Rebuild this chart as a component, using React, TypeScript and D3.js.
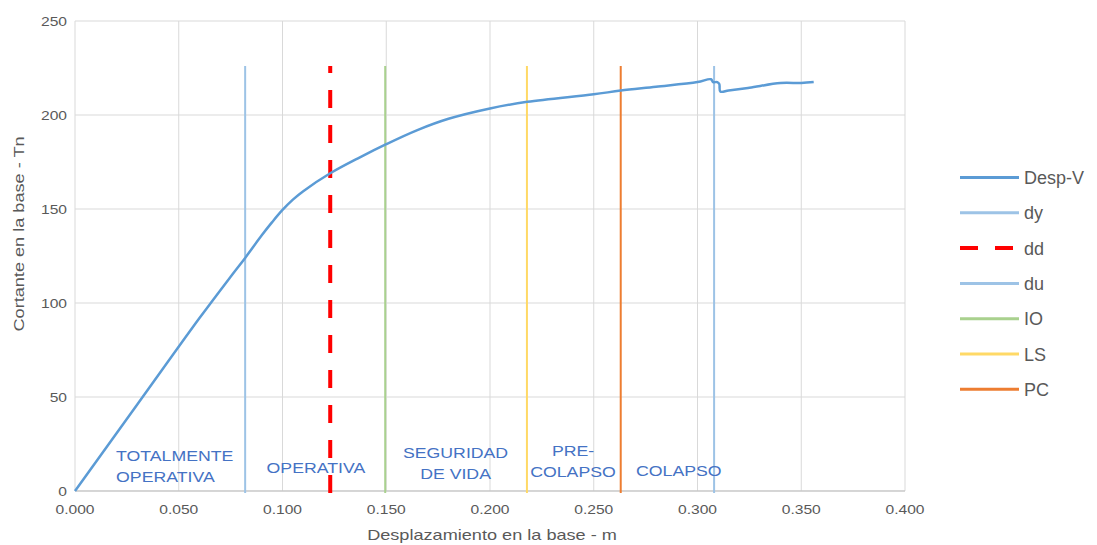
import React from "react";
import * as d3 from "d3";

// Pushover curve: displacement (m) vs base shear (Tn)
const dispX = [0, 0.03, 0.06, 0.075, 0.082, 0.09, 0.095, 0.1, 0.105, 0.11, 0.123, 0.1373, 0.15, 0.165, 0.18, 0.2, 0.218, 0.25, 0.263, 0.28, 0.3, 0.3065, 0.3075, 0.3095, 0.3105, 0.311, 0.315, 0.325, 0.34, 0.35, 0.356];
const shearV = [0, 46, 92, 114, 124, 136, 143, 149.5, 155, 159.5, 169, 177.5, 184.5, 192, 198, 203.5, 207, 211, 213, 215, 217.5, 219, 217.5, 217.5, 216.5, 212.5, 213, 214.5, 217, 217, 217.5];

// Performance limits (vertical markers)
const limitNames = ["dy", "dd", "du", "IO", "LS", "PC"];
const limitValues = [0.082, 0.123, 0.308, 0.1495, 0.2178, 0.263];
const limitTop = 226;

const xTicks = [0, 0.05, 0.1, 0.15, 0.2, 0.25, 0.3, 0.35, 0.4];
const yTicks = [0, 50, 100, 150, 200, 250];

const zoneLabels = [
  { lines: ["TOTALMENTE", "OPERATIVA"], x: 0.0198, y: 16, anchor: "start" },
  { lines: ["OPERATIVA"], x: 0.1161, y: 9.6, anchor: "middle" },
  { lines: ["SEGURIDAD", "DE VIDA"], x: 0.1834, y: 17.5, anchor: "middle" },
  { lines: ["PRE-", "COLAPSO"], x: 0.24, y: 18.6, anchor: "middle" },
  { lines: ["COLAPSO"], x: 0.2704, y: 8, anchor: "start" },
];

const legendNames = ["Desp-V", "dy", "dd", "du", "IO", "LS", "PC"];

const styles: Record<string, { stroke: string; width: number; dash?: string }> = {
  "Desp-V": { stroke: "#5B9BD5", width: 2.5 },
  dy: { stroke: "#9DC3E6", width: 2 },
  dd: { stroke: "#FF0000", width: 4, dash: "18,17" },
  du: { stroke: "#9DC3E6", width: 2 },
  IO: { stroke: "#A9D18E", width: 2 },
  LS: { stroke: "#FFD966", width: 2 },
  PC: { stroke: "#ED7D31", width: 2 },
};

export default function App() {
  const W = 1097;
  const H = 545;
  const x = d3.scaleLinear().domain([0, 0.4]).range([75, 905]);
  const y = d3.scaleLinear().domain([0, 250]).range([491, 21]);
  const line = d3
    .line<number>()
    .x((_, i) => x(dispX[i]))
    .y((d) => y(d))
    .curve(d3.curveCatmullRom.alpha(0.5));
  const font = "Arial, 'Liberation Sans', sans-serif";
  const tickColor = "#595959";
  const labelColor = "#4472C4";
  const wide = 1.25;

  return (
    <svg width={W} height={H} style={{ position: "absolute", left: 0, top: 0 }} fontFamily={font}>
      <rect width={W} height={H} fill="#fff" />
      {/* grid */}
      {yTicks.map((t) => (
        <line key={"gy" + t} x1={x(0)} x2={x(0.4)} y1={y(t)} y2={y(t)} stroke="#D9D9D9" strokeWidth={1} />
      ))}
      {xTicks.map((t) => (
        <line key={"gx" + t} x1={x(t)} x2={x(t)} y1={y(0)} y2={y(250)} stroke="#D9D9D9" strokeWidth={1} />
      ))}
      <line x1={x(0)} x2={x(0.4)} y1={y(0)} y2={y(0)} stroke="#BFBFBF" strokeWidth={1} />
      {/* tick labels */}
      {yTicks.map((t) => (
        <text
          key={"ty" + t}
          transform={`translate(${x(0) - 8}, ${y(t) + 4.5}) scale(${wide},1)`}
          textAnchor="end"
          fontSize={12.5}
          fill={tickColor}
        >
          {t}
        </text>
      ))}
      {xTicks.map((t) => (
        <text
          key={"tx" + t}
          transform={`translate(${x(t)}, ${y(0) + 23}) scale(${wide},1)`}
          textAnchor="middle"
          fontSize={12.5}
          fill={tickColor}
        >
          {d3.format(".3f")(t)}
        </text>
      ))}
      <text transform={`translate(${x(0.2) + 2}, 540) scale(${wide},1)`} textAnchor="middle" fontSize={14.5} fill={tickColor}>
        Desplazamiento en la base  - m
      </text>
      <text
        transform={`translate(24, 234) rotate(-90) scale(${wide},1)`}
        textAnchor="middle"
        fontSize={14.5}
        fill={tickColor}
      >
        Cortante en la base - Tn
      </text>
      {/* limit lines, drawn upward from the base */}
      {limitNames.map((n, i) => {
        const s = styles[n];
        return (
          <line
            key={n}
            x1={x(limitValues[i])}
            x2={x(limitValues[i])}
            y1={y(0) + 2}
            y2={y(limitTop)}
            stroke={s.stroke}
            strokeWidth={s.width}
            strokeDasharray={s.dash}
          />
        );
      })}
      {/* pushover curve */}
      <path d={line(shearV) || ""} fill="none" stroke={styles["Desp-V"].stroke} strokeWidth={2.5} strokeLinejoin="round" />
      {/* zone labels */}
      {zoneLabels.map((z, i) => (
        <g key={i} transform={`translate(${x(z.x)}, ${y(z.y)}) scale(1.18,1)`}>
          {z.lines.map((l, j) => (
            <text key={j} x={0} y={j * 21} textAnchor={z.anchor as any} fontSize={15} fill={labelColor}>
              {l}
            </text>
          ))}
        </g>
      ))}
      {/* legend */}
      {legendNames.map((n, i) => {
        const s = styles[n];
        const ly = 177.5 + i * 35.3;
        return (
          <g key={n}>
            <line
              x1={960}
              x2={1019}
              y1={ly}
              y2={ly}
              stroke={s.stroke}
              strokeWidth={n === "dd" ? 4 : 3}
              strokeDasharray={n === "dd" ? "18,17" : undefined}
            />
            <text x={1024} y={ly + 6.5} fontSize={18} fill={tickColor}>
              {n}
            </text>
          </g>
        );
      })}
    </svg>
  );
}
